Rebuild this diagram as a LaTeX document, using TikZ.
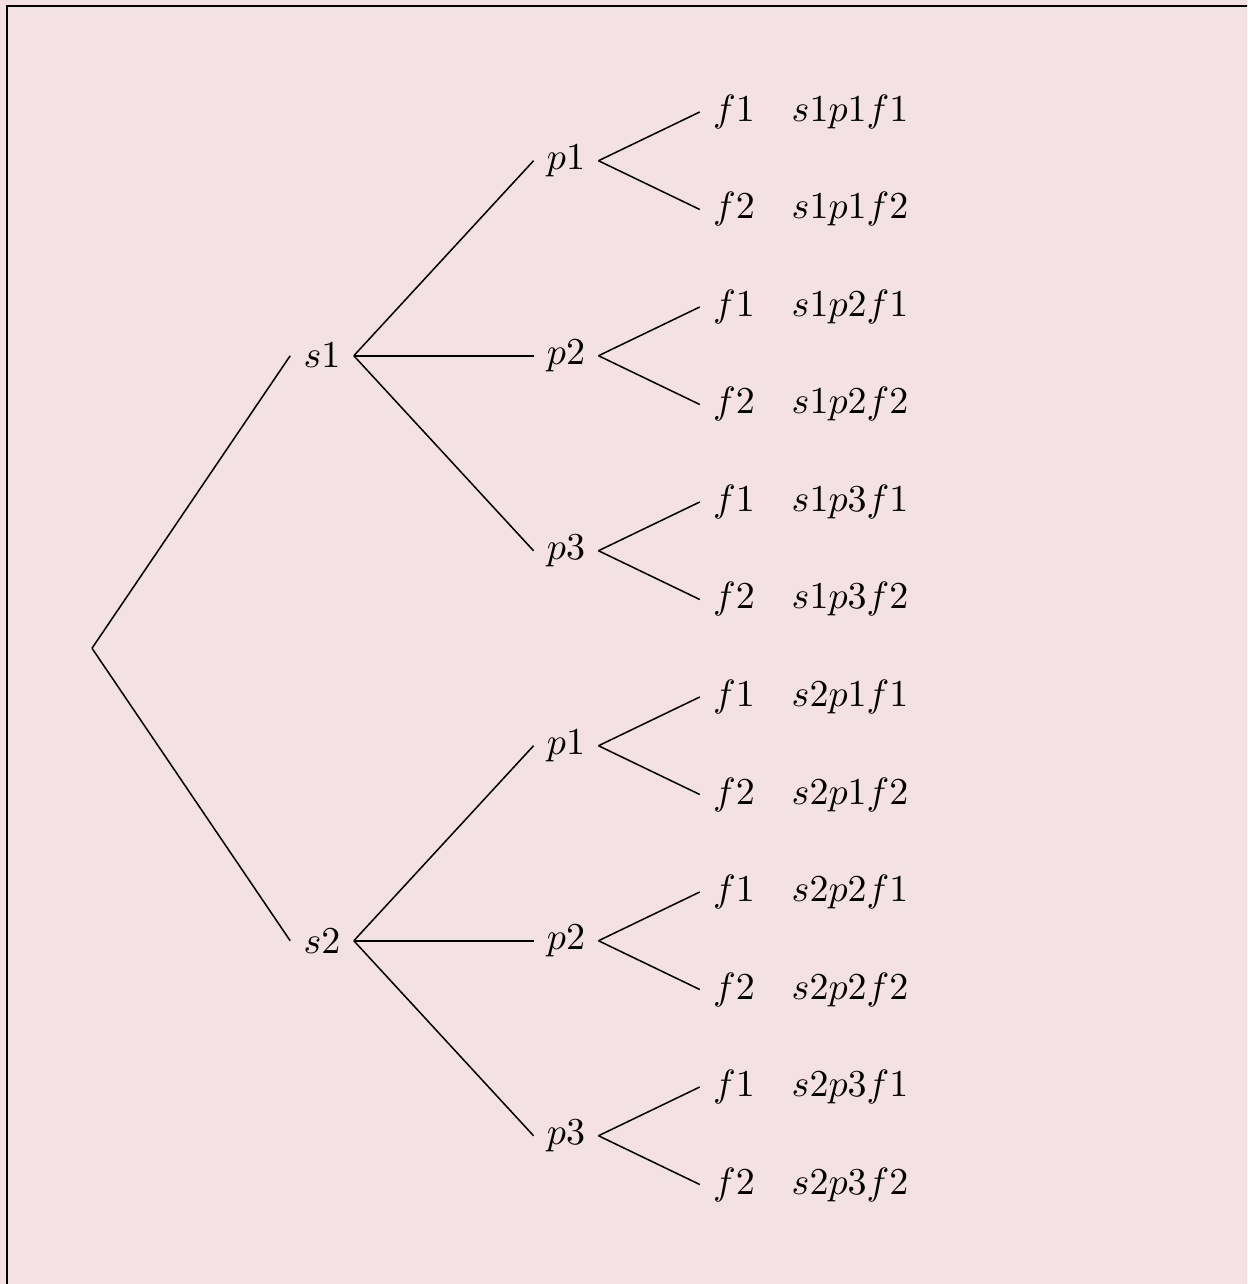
\documentclass[tikz,border=0pt]{standalone}
\definecolor{bgpink}{RGB}{244,225,227}
\begin{document}
\begin{tikzpicture}[x=0.2632pt,y=-0.2632pt,
  lbl/.style={inner sep=3.33pt},
  edge/.style={line width=0.4pt, black}]
\useasboundingbox (0,0) rectangle (1247,1284);
\fill[bgpink] (0,0) rectangle (1247,1284);
\begin{scope}
\clip (0,0) rectangle (1247,1284);
\draw[line width=0.5pt] (7,6) rectangle (1300,1340);
\end{scope}
% root
\coordinate (r) at (92,648.25);
% level 1
\node[lbl] (s1) at (322,355.75) {$s1$};
\node[lbl] (s2) at (322,940.75) {$s2$};
\draw[edge] (r) -- (s1.west);
\draw[edge] (r) -- (s2.west);
% level 2, level 3, leaf labels
\foreach \s in {1,2}{
  \foreach \p in {1,2,3}{
    \pgfmathsetmacro{\py}{160.75 + 195*((\s-1)*3 + \p - 1)}
    \node[lbl] (p\s\p) at (566,\py) {$p\p$};
    \draw[edge] (s\s.east) -- (p\s\p.west);
    \foreach \f in {1,2}{
      \pgfmathsetmacro{\fy}{112 + 97.5*(((\s-1)*3 + \p - 1)*2 + \f - 1)}
      \node[lbl] (f\s\p\f) at (734,\fy) {$f\f$};
      \node[lbl] (o\s\p\f) at (850,\fy) {$s\s p\p f\f$};
      \draw[edge] (p\s\p.east) -- (f\s\p\f.west);
    }
  }
}
\end{tikzpicture}
\end{document}
